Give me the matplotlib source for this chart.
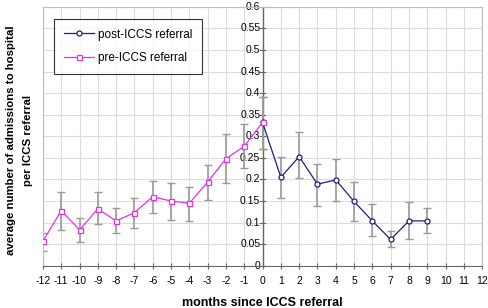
import matplotlib
matplotlib.use('Agg')
import matplotlib.pyplot as plt
import numpy as np

plt.rcParams['font.family'] = ['Liberation Sans', 'DejaVu Sans']
plt.rcParams['axes.unicode_minus'] = False

# months since referral
pre_months = [-12, -11, -10, -9, -8, -7, -6, -5, -4, -3, -2, -1, 0]
pre_mean = [0.057, 0.128, 0.083, 0.132, 0.104, 0.123, 0.160, 0.150, 0.145, 0.194, 0.248, 0.277, 0.332]
pre_hi = [0.077, 0.170, 0.111, 0.170, 0.133, 0.158, 0.197, 0.191, 0.183, 0.234, 0.305, 0.328, 0.392]
pre_lo = [0.034, 0.083, 0.054, 0.096, 0.077, 0.087, 0.122, 0.107, 0.104, 0.152, 0.192, 0.226, 0.270]

post_months = [0, 1, 2, 3, 4, 5, 6, 7, 8, 9]
post_mean = [0.332, 0.205, 0.253, 0.189, 0.199, 0.149, 0.104, 0.061, 0.104, 0.104]
post_hi = [0.392, 0.251, 0.310, 0.236, 0.247, 0.193, 0.143, 0.080, 0.147, 0.134]
post_lo = [0.270, 0.158, 0.204, 0.138, 0.149, 0.104, 0.068, 0.043, 0.063, 0.076]

y_ticks = [0, 0.05, 0.1, 0.15, 0.2, 0.25, 0.3, 0.35, 0.4, 0.45, 0.5, 0.55, 0.6]

fig = plt.figure(figsize=(4.88, 3.08), dpi=100)
ax = fig.add_axes([0.088, 0.137, 0.900, 0.841])

ecol = '#9a9a9a'
pm = np.array(post_mean)
ax.errorbar(post_months, pm, yerr=[pm - np.array(post_lo), np.array(post_hi) - pm],
            fmt='none', ecolor=ecol, elinewidth=1.2, capsize=3, capthick=1, zorder=2)
prm = np.array(pre_mean)
ax.errorbar(pre_months, prm, yerr=[prm - np.array(pre_lo), np.array(pre_hi) - prm],
            fmt='none', ecolor=ecol, elinewidth=1.2, capsize=3, capthick=1, zorder=2)

ax.plot(post_months, post_mean, color='#1f1f7a', linewidth=0.9, marker='o', markersize=3.6,
        markerfacecolor='white', markeredgecolor='#1f1f7a', markeredgewidth=0.9,
        label='post-ICCS referral', zorder=3)
ax.plot(pre_months, pre_mean, color='#e830e8', linewidth=0.9, marker='s', markersize=3.6,
        markerfacecolor='white', markeredgecolor='#e830e8', markeredgewidth=0.9,
        label='pre-ICCS referral', zorder=4)

ax.set_xlim(-12, 12)
ax.set_ylim(0, 0.6)
ax.set_xticks(range(-12, 13))
ax.set_yticks(y_ticks)
ax.grid(True, color='#dcdcdc', linewidth=0.8)
ax.set_axisbelow(True)

for s in ['top', 'right', 'left']:
    ax.spines[s].set_color('#bdbdbd')
    ax.spines[s].set_linewidth(0.8)
ax.spines['bottom'].set_color('#666666')

# y axis drawn at x = 0
ax.axvline(0, color='#666666', linewidth=1, zorder=1.5)
ax.tick_params(axis='y', which='both', length=0, labelleft=False)
for v in y_ticks:
    ax.plot([-0.15, 0.15], [v, v], color='#666666', linewidth=0.8, zorder=1.5, clip_on=False)
    ax.text(-0.12, v, '%g' % v, ha='right', va='center', fontsize=7.5, zorder=1.6)

ax.tick_params(axis='x', direction='inout', length=5, color='#666666', labelsize=7.5, pad=5)

ax.set_xlabel('months since ICCS referral', fontsize=9, fontweight='bold', labelpad=8)
fig.text(0.04, 0.545, 'average number of admissions to hospital\nper ICCS referral', rotation=90,
         ha='center', va='center', fontsize=8.2, fontweight='bold', multialignment='center',
         linespacing=1.9)

leg = ax.legend(loc='upper left', bbox_to_anchor=(0.012, 0.975), fontsize=8.5, frameon=True,
                fancybox=False, edgecolor='black', borderpad=0.8, labelspacing=1.0,
                handlelength=2.6, handletextpad=0.3)
leg.get_frame().set_linewidth(0.8)

fig.savefig('out.png', dpi=100)
